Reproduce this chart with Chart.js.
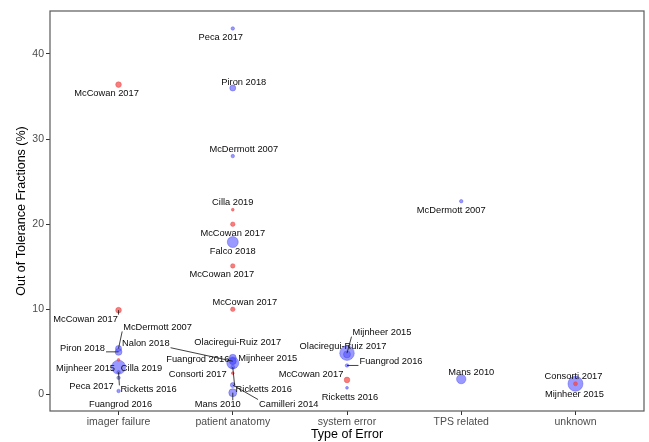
<!DOCTYPE html>
<html>
<head>
<meta charset="utf-8">
<script src="https://cdn.jsdelivr.net/npm/chart.js@4/dist/chart.umd.min.js"></script>
<style>
  html, body { margin: 0; padding: 0; background: #ffffff; }
  #wrap { width: 649px; height: 442px; }
</style>
</head>
<body>
<div id="wrap"><canvas id="chart" width="649" height="442"></canvas></div>
<script>
// Error categories on the x axis and value ticks on the y axis
const categories = ['imager failure', 'patient anatomy', 'system error', 'TPS related', 'unknown'];
const yTickValues = [0, 10, 20, 30, 40];

// Blue group: study, category index (1-based), out-of-tolerance fraction (%), study weight
const blueStudy = [
  'McDermott 2007', 'Piron 2018', 'Mijnheer 2015', 'Ricketts 2016', 'Peca 2017', 'Fuangrod 2016',
  'Peca 2017', 'Piron 2018', 'McDermott 2007', 'Falco 2018', 'Olaciregui-Ruiz 2017', 'Fuangrod 2016',
  'Mijnheer 2015', 'Nalon 2018', 'Ricketts 2016', 'Mans 2010', 'Camilleri 2014',
  'Mijnheer 2015', 'Olaciregui-Ruiz 2017', 'Fuangrod 2016', 'Ricketts 2016',
  'McDermott 2007', 'Mans 2010',
  'Mijnheer 2015'
];
const blueCategory = [1, 1, 1, 1, 1, 1, 2, 2, 2, 2, 2, 2, 2, 2, 2, 2, 2, 3, 3, 3, 3, 4, 4, 5];
const blueValue = [5.4, 5.0, 3.2, 2.6, 1.95, 0.4, 43.0, 36.0, 28.0, 17.9, 4.3, 3.9, 3.7, 3.9, 3.2, 0.2, 1.1,
  4.85, 4.7, 3.4, 0.77, 22.7, 1.8, 1.25];
const blueWeight = [9, 12, 49, 3, 3, 3, 3, 9, 3, 30, 12, 9, 36, 12, 4, 16, 6, 53, 12, 3, 2, 3, 22, 56];

// Red group
const redStudy = [
  'McCowan 2017', 'McCowan 2017', 'Cilla 2019',
  'Cilla 2019', 'McCowan 2017', 'McCowan 2017', 'McCowan 2017', 'Consorti 2017',
  'McCowan 2017',
  'Consorti 2017'
];
const redCategory = [1, 1, 1, 2, 2, 2, 2, 2, 3, 5];
const redValue = [36.4, 9.9, 4.05, 21.7, 20.0, 15.1, 10.0, 2.5, 1.7, 1.25];
const redWeight = [8, 8, 2, 2, 5, 5, 5, 2, 8, 4];

// Label placement relative to each point, in pixels: [dx, dy, draw leader line]
const blueLabelPlacement = [
  [39, -21.5, true], [-36, -3, true], [-33, 1, false], [30, 17.6, true], [-27, 9, false], [2, 13, false],
  [-12, 8.5, false], [11, -6, false], [11, -7, false], [0, 9, false], [5, -15, false], [-35, -2, false],
  [35, -4, false], [-87, -18, true], [31, 22.7, true], [-15, 12, true], [56, 19, true],
  [35, -21, true], [-4, -7.5, false], [44, -3.6, true], [3, 10, false],
  [-10, 9, false], [10, -7, false],
  [-1, 11, false]
];
const redLabelPlacement = [
  [-12, 9.3, false], [-33, 9, true], [23, 8, false],
  [0, -7, false], [0, 9, false], [-11, 9, false], [12, -6.5, false], [-35, 1, false],
  [-36, -6, false],
  [-2, -7, false]
];

function toPoints(cat, val, weight) {
  return cat.map((c, i) => ({ x: c, y: val[i], r: Math.sqrt(weight[i]) }));
}

const FONT = '"Liberation Sans", Arial, Helvetica, sans-serif';

// Study labels with ggrepel-style leader segments
const studyLabels = {
  id: 'studyLabels',
  afterDatasetsDraw(chart) {
    const ctx = chart.ctx;
    ctx.save();
    ctx.font = '9.3px ' + FONT;
    ctx.textAlign = 'center';
    ctx.textBaseline = 'middle';
    chart.data.datasets.forEach((ds, di) => {
      const meta = chart.getDatasetMeta(di);
      meta.data.forEach((el, i) => {
        const text = ds.studies[i];
        const [dx, dy, line] = ds.placement[i];
        const lx = el.x + dx, ly = el.y + dy;
        const w = ctx.measureText(text).width;
        const h = 9;
        if (line) {
          const bx = Math.max(lx - w / 2 - 1, Math.min(el.x, lx + w / 2 + 1));
          const by = Math.max(ly - h / 2, Math.min(el.y, ly + h / 2));
          ctx.strokeStyle = '#111';
          ctx.lineWidth = 0.8;
          ctx.beginPath();
          ctx.moveTo(bx, by);
          ctx.lineTo(el.x, el.y);
          ctx.stroke();
        }
        ctx.fillStyle = '#0a0a0a';
        ctx.fillText(text, lx, ly);
      });
    });
    ctx.restore();
  }
};

// Grey frame around the plotting panel
const panelBorder = {
  id: 'panelBorder',
  afterDraw(chart) {
    const a = chart.chartArea;
    const ctx = chart.ctx;
    ctx.save();
    ctx.strokeStyle = '#5a5a5a';
    ctx.lineWidth = 1.2;
    ctx.strokeRect(a.left, a.top, a.right - a.left, a.bottom - a.top);
    ctx.restore();
  }
};

new Chart(document.getElementById('chart'), {
  type: 'bubble',
  data: {
    datasets: [
      {
        label: 'red',
        data: toPoints(redCategory, redValue, redWeight),
        studies: redStudy,
        placement: redLabelPlacement,
        backgroundColor: 'rgba(245, 70, 70, 0.7)',
        borderColor: 'rgba(230, 60, 60, 0.8)',
        borderWidth: 0.5,
        order: 1
      },
      {
        label: 'blue',
        data: toPoints(blueCategory, blueValue, blueWeight),
        studies: blueStudy,
        placement: blueLabelPlacement,
        backgroundColor: 'rgba(85, 85, 255, 0.6)',
        borderColor: 'rgba(60, 60, 230, 0.75)',
        borderWidth: 0.5,
        order: 2
      }
    ]
  },
  options: {
    responsive: false,
    animation: false,
    devicePixelRatio: 1,
    layout: { autoPadding: false, padding: { left: 0, right: 5, top: 11, bottom: 0 } },
    plugins: { legend: { display: false }, tooltip: { enabled: false } },
    scales: {
      x: {
        type: 'linear',
        min: 0.4,
        max: 5.6,
        afterBuildTicks: (scale) => { scale.ticks = categories.map((c, i) => ({ value: i + 1 })); },
        afterFit: (scale) => { scale.height = 31; },
        grid: { drawOnChartArea: false, drawTicks: true, tickLength: 4, color: '#333', lineWidth: 1 },
        border: { display: false },
        ticks: {
          autoSkip: false, maxRotation: 0, padding: 1,
          color: '#4d4d4d', font: { family: FONT, size: 10.5 },
          callback: (v) => categories[v - 1]
        },
        title: {
          display: true, text: 'Type of Error', color: '#000',
          font: { family: FONT, size: 12.5 }, padding: { top: 0, bottom: 0 }
        }
      },
      y: {
        type: 'linear',
        min: -1.95,
        max: 45.05,
        afterBuildTicks: (scale) => { scale.ticks = yTickValues.map(v => ({ value: v })); },
        afterFit: (scale) => { scale.width = 50; },
        grid: { drawOnChartArea: false, drawTicks: true, tickLength: 4, color: '#333', lineWidth: 1 },
        border: { display: false },
        ticks: { padding: 2, color: '#4d4d4d', font: { family: FONT, size: 10.5 } },
        title: {
          display: true, text: 'Out of Tolerance Fractions (%)', color: '#000',
          font: { family: FONT, size: 12.5 }, padding: { top: 14, bottom: 0 }
        }
      }
    }
  },
  plugins: [studyLabels, panelBorder]
});
</script>
</body>
</html>
